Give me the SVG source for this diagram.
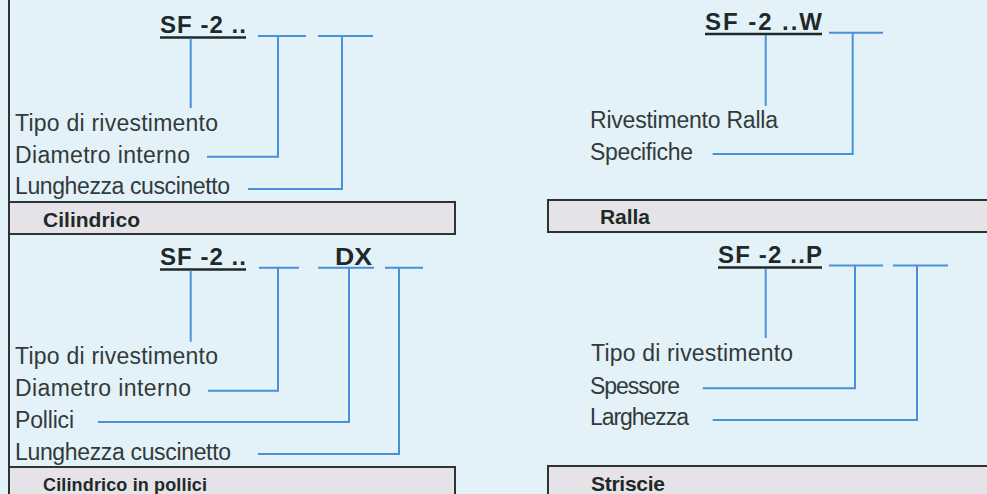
<svg xmlns="http://www.w3.org/2000/svg" width="987" height="494" viewBox="0 0 987 494">
<style>
.bg{fill:#e3f2f9}
.lbl{font-family:"Liberation Sans",Arial,sans-serif;font-size:23px;fill:#333a3a}
.hd{font-family:"Liberation Sans",Arial,sans-serif;font-size:24px;font-weight:bold;fill:#1f2929}
.bt{font-family:"Liberation Sans",Arial,sans-serif;font-size:21px;font-weight:bold;fill:#1f2929}
.bar{fill:#e5e3e8;stroke:#2e3333;stroke-width:2}
.ul{stroke:#1f2929;stroke-width:2.5}
.cn{fill:none;stroke:#4a8fdc;stroke-width:2}
.frame{stroke:#2e3333;stroke-width:2}
</style>
<rect class="bg" x="0" y="0" width="987" height="494"/>
<line class="frame" x1="9" y1="0" x2="9" y2="494"/>

<g id="cilindrico">
  <text class="hd" x="160" y="33" textLength="86" lengthAdjust="spacing">SF -2 ..</text>
  <line class="ul" x1="160" y1="37.5" x2="246" y2="37.5"/>
  <text class="lbl" x="15" y="130.5" textLength="203" lengthAdjust="spacing">Tipo di rivestimento</text>
  <text class="lbl" x="15" y="162.5" textLength="175" lengthAdjust="spacing">Diametro interno</text>
  <text class="lbl" x="15" y="194" textLength="215" lengthAdjust="spacing">Lunghezza cuscinetto</text>
  <rect class="bar" x="9" y="202" width="446" height="32"/>
  <text class="bt" x="43" y="227" textLength="97" lengthAdjust="spacing">Cilindrico</text>
</g>

<g id="ralla">
  <text class="hd" x="705" y="30" textLength="117" lengthAdjust="spacing">SF -2 ..W</text>
  <line class="ul" x1="705" y1="34" x2="822" y2="34"/>
  <text class="lbl" x="590" y="128" textLength="188" lengthAdjust="spacing">Rivestimento Ralla</text>
  <text class="lbl" x="590" y="159.5" textLength="103" lengthAdjust="spacing">Specifiche</text>
  <rect class="bar" x="548" y="200" width="460" height="32"/>
  <text class="bt" x="600" y="224" textLength="50" lengthAdjust="spacing">Ralla</text>
</g>

<g id="cilindrico-pollici">
  <text class="hd" x="160" y="265" textLength="86" lengthAdjust="spacing">SF -2 ..</text>
  <line class="ul" x1="160" y1="269.5" x2="246" y2="269.5"/>
  <text class="hd" x="335" y="265" textLength="37" lengthAdjust="spacingAndGlyphs">DX</text>
  <text class="lbl" x="15" y="363.5" textLength="203" lengthAdjust="spacing">Tipo di rivestimento</text>
  <text class="lbl" x="15" y="396" textLength="176" lengthAdjust="spacing">Diametro interno</text>
  <text class="lbl" x="15" y="428" textLength="59" lengthAdjust="spacing">Pollici</text>
  <text class="lbl" x="15" y="460" textLength="216" lengthAdjust="spacing">Lunghezza cuscinetto</text>
  <rect class="bar" x="9" y="467" width="446" height="40"/>
  <text class="bt" x="43" y="491" style="font-size:18px" textLength="164" lengthAdjust="spacing">Cilindrico in pollici</text>
</g>

<g id="striscie">
  <text class="hd" x="718" y="263" textLength="104" lengthAdjust="spacing">SF -2 ..P</text>
  <line class="ul" x1="718" y1="267.5" x2="822" y2="267.5"/>
  <text class="lbl" x="591" y="361" textLength="202" lengthAdjust="spacing">Tipo di rivestimento</text>
  <text class="lbl" x="590" y="393.5" textLength="90" lengthAdjust="spacing">Spessore</text>
  <text class="lbl" x="590" y="425" textLength="99" lengthAdjust="spacing">Larghezza</text>
  <rect class="bar" x="548" y="466" width="460" height="40"/>
  <text class="bt" x="591" y="491" textLength="74" lengthAdjust="spacing">Striscie</text>
</g>

<g id="connectors">
  <path class="cn" d="M190.7 38.5V108"/>
  <path class="cn" d="M258 36H306M278 36V156.7H207"/>
  <path class="cn" d="M318 36H373M342 36V189H248"/>

  <path class="cn" d="M765.7 35V106"/>
  <path class="cn" d="M829 32.7H883M852.7 32.7V154H712.7"/>

  <path class="cn" d="M190.7 270.5V341.7"/>
  <path class="cn" d="M259 267.7H299M278 267.7V390.7H208"/>
  <path class="cn" d="M318 267.7H374M349 267.7V422H98"/>
  <path class="cn" d="M385 267.7H423M399 267.7V454H258"/>

  <path class="cn" d="M765.7 269V338"/>
  <path class="cn" d="M829 265.5H883M855 265.5V388.3H702.7"/>
  <path class="cn" d="M893 265.5H948M917 265.5V420H712.7"/>
</g>
</svg>
